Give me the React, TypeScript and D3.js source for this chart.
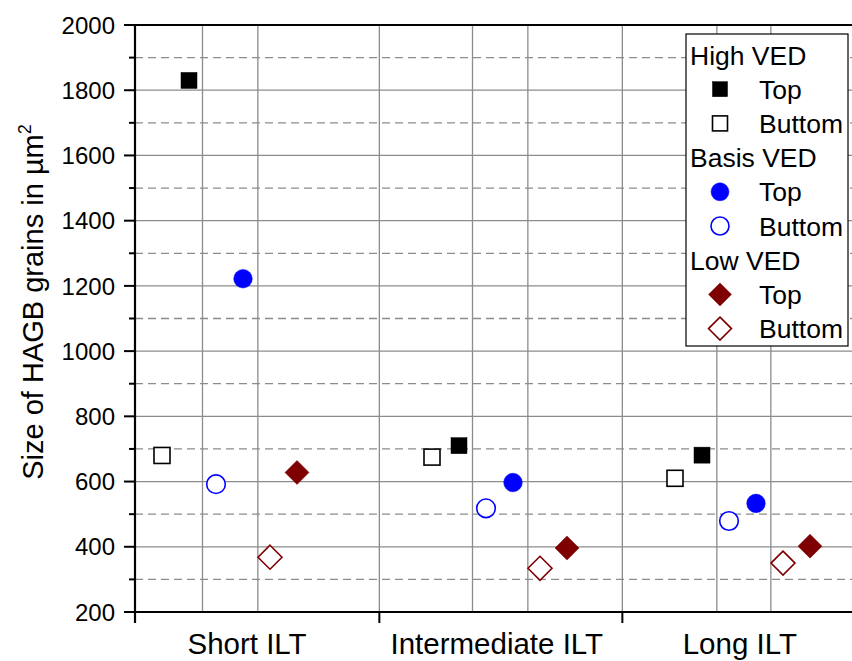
import React from "react";
import * as d3 from "d3";

// ---- data ----
const groups = ["Short ILT", "Intermediate ILT", "Long ILT"];
const groupLabelX = [4.15, 13.4, 22.4]; // x positions (slot units) of group labels
const groupStarts = [1, 11, 20]; // first slot of each group

const seriesNames = ["High VED Buttom", "High VED Top", "Basis VED Buttom", "Basis VED Top", "Low VED Buttom", "Low VED Top"];
const seriesShape = ["square", "square", "circle", "circle", "diamond", "diamond"];
const seriesFilled = [false, true, false, true, false, true];
const seriesColor = ["#000000", "#000000", "#0000ff", "#0000ff", "#7f0000", "#7f0000"];

// values per group, order as seriesNames
const shortVals = [680, 1830, 592, 1222, 368, 628];
const interVals = [675, 710, 518, 597, 334, 396];
const longVals = [610, 681, 479, 533, 350, 402];
const allVals = [shortVals, interVals, longVals];

const yMajorTicks = [200, 400, 600, 800, 1000, 1200, 1400, 1600, 1800, 2000];
const yMinorTicks = [300, 500, 700, 900, 1100, 1300, 1500, 1700, 1900];
const xGrid = [2.5, 4.55, 9.05, 12.5, 14.55, 18.05, 21.55, 23.55];
const xMajorTicks = [9.05, 18.05];

const legendHeaders = ["High VED", "Basis VED", "Low VED"];
const legendItems = ["Top", "Buttom"];

const W = 852;
const H = 661;
const FONT = "'Liberation Sans', Arial, sans-serif";

function Marker({ shape, filled, color, x, y, legend }: any) {
  const sw = 1.6;
  const fill = filled ? color : "#ffffff";
  if (shape === "square") {
    const s = legend ? 15 : 16;
    return <rect x={x - s / 2} y={y - s / 2} width={s} height={s} fill={fill} stroke={color} strokeWidth={filled ? 0.5 : sw} />;
  }
  if (shape === "circle") {
    const r = legend ? 9 : 9.3;
    return <circle cx={x} cy={y} r={r} fill={fill} stroke={color} strokeWidth={filled ? 0.5 : sw} />;
  }
  const r = legend ? 11.5 : 12;
  const p = d3.path();
  p.moveTo(x, y - r);
  p.lineTo(x + r, y);
  p.lineTo(x, y + r);
  p.lineTo(x - r, y);
  p.closePath();
  return <path d={p.toString()} fill={fill} stroke={color} strokeWidth={filled ? 0.5 : sw} />;
}

export default function App() {
  const left = 135;
  const top = 25;
  const bottom = 612;
  const x = d3.scaleLinear().domain([0, 27]).range([left, 864]);
  const y = d3.scaleLinear().domain([200, 2000]).range([bottom, top]);
  const right = x(27);

  const legX = 686;
  const legY = 34;
  const legW = 162;
  const legH = 312;
  const rowH = 34.2;

  const legendRows: any[] = [];
  legendHeaders.forEach((h, gi) => {
    legendRows.push({ type: "header", text: h });
    legendItems.forEach((it, ii) => {
      const si = gi * 2 + (ii === 0 ? 1 : 0);
      legendRows.push({ type: "item", text: it, si });
    });
  });

  return (
    <div style={{ position: "absolute", left: 0, top: 0 }}>
      <svg width={W} height={H} style={{ display: "block", background: "#fff" }} fontFamily={FONT}>
        {/* grid */}
        {yMinorTicks.map((v) => (
          <line key={"mg" + v} x1={left} x2={right} y1={y(v)} y2={y(v)} stroke="#8c8c8c" strokeWidth={1.3} strokeDasharray="8,5" />
        ))}
        {yMajorTicks.filter((v) => v > 200 && v < 2000).map((v) => (
          <line key={"Mg" + v} x1={left} x2={right} y1={y(v)} y2={y(v)} stroke="#8c8c8c" strokeWidth={1.3} />
        ))}
        {xGrid.map((v) => (
          <line key={"xg" + v} x1={x(v)} x2={x(v)} y1={top} y2={bottom} stroke="#8c8c8c" strokeWidth={1.3} />
        ))}

        {/* axes */}
        <line x1={left} x2={right} y1={top} y2={top} stroke="#000" strokeWidth={2.2} />
        <line x1={left} x2={right} y1={bottom} y2={bottom} stroke="#000" strokeWidth={2.2} />
        <line x1={left} x2={left} y1={top} y2={bottom + 11} stroke="#000" strokeWidth={2.2} />
        {xMajorTicks.map((v) => (
          <line key={"xt" + v} x1={x(v)} x2={x(v)} y1={bottom} y2={bottom + 11} stroke="#000" strokeWidth={2} />
        ))}
        {yMajorTicks.map((v) => (
          <line key={"yt" + v} x1={left - 11} x2={left} y1={y(v)} y2={y(v)} stroke="#000" strokeWidth={2} />
        ))}
        {yMinorTicks.map((v) => (
          <line key={"ymt" + v} x1={left - 6} x2={left} y1={y(v)} y2={y(v)} stroke="#000" strokeWidth={2} />
        ))}
        {yMajorTicks.map((v) => (
          <text key={"yl" + v} x={115} y={y(v)} dy="0.36em" textAnchor="end" fontSize={24} fill="#000">
            {v}
          </text>
        ))}
        {groups.map((g, i) => (
          <text key={g} x={x(groupLabelX[i])} y={654} textAnchor="middle" fontSize={29.5} fill="#000">
            {g}
          </text>
        ))}
        <text transform={`translate(43,302) rotate(-90)`} textAnchor="middle" fontSize={29} fill="#000">
          Size of HAGB grains in µm
          <tspan fontSize={18} dy={-12}>2</tspan>
        </text>

        {/* points */}
        {allVals.map((vals, gi) =>
          vals.map((v, si) => (
            <Marker
              key={gi + "-" + si}
              shape={seriesShape[si]}
              filled={seriesFilled[si]}
              color={seriesColor[si]}
              x={x(groupStarts[gi] + si)}
              y={y(v)}
            />
          ))
        )}

        {/* legend */}
        <rect x={legX} y={legY} width={legW} height={legH} fill="#fff" stroke="#000" strokeWidth={1.2} />
        {legendRows.map((r, i) => {
          const cy = legY + 21 + i * rowH;
          if (r.type === "header") {
            return (
              <text key={"lh" + i} x={legX + 4} y={cy} dy="0.36em" fontSize={26.5} fill="#000">
                {r.text}
              </text>
            );
          }
          return (
            <g key={"li" + i}>
              <Marker shape={seriesShape[r.si]} filled={seriesFilled[r.si]} color={seriesColor[r.si]} x={legX + 34} y={cy} legend />
              <text x={legX + 73} y={cy} dy="0.36em" fontSize={26.5} fill="#000">
                {r.text}
              </text>
            </g>
          );
        })}
      </svg>
    </div>
  );
}
